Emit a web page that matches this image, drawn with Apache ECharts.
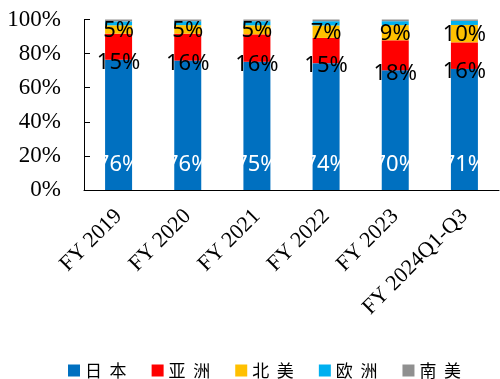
<!DOCTYPE html>
<html><head><meta charset="utf-8">
<script src="https://cdn.jsdelivr.net/npm/echarts@6/dist/echarts.min.js"></script>
<style>html,body{margin:0;padding:0;background:#fff}#c{width:500px;height:379px}</style>
</head><body><div id="c"></div>
<script>
var categories = ['FY 2019','FY 2020','FY 2021','FY 2022','FY 2023','FY 2024Q1-Q3'];
var japan   = [76.4, 75.9, 75.2, 74.4, 70.2, 71.0];
var asia    = [15.3, 15.8, 16.1, 14.8, 17.6, 15.6];
var nAmerica= [4.9, 5.0, 5.3, 7.3, 8.9, 10.2];
var europe  = [2.3, 2.3, 2.4, 2.5, 2.3, 2.4];
var sAmerica= [1.1, 1.0, 1.0, 1.0, 1.0, 0.8];
var seriesNames = ['日本','亚洲','北美','欧洲','南美'];
var yTicks = [0,20,40,60,80,100];

var colors = ['#0070C0','#FF0000','#FFC000','#00B0F0','#909090'];
var pct = function(p){ return Math.round(p.value) + '%'; };
var labelFont = 'Noto Sans';
var chart = echarts.init(document.getElementById('c'));
chart.setOption({
  animation:false,
  color: colors,
  grid:{left:84, right:1, top:19.5, bottom:189, containLabel:false},
  legend:{
    left:63, top:357, itemWidth:12, itemHeight:12, itemGap:25,
    icon:'rect',
    formatter:function(n){ return n.split('').join('  '); },
    textStyle:{fontFamily:'Noto Sans CJK SC', fontSize:17, color:'#000'},
    data: seriesNames
  },
  xAxis:{
    type:'category', data:categories,
    axisLine:{lineStyle:{color:'#000', width:1}},
    axisTick:{inside:true, length:6, lineStyle:{color:'#000'}},
    axisLabel:{rotate:45, margin:23, interval:0, fontFamily:'Liberation Serif', fontSize:22, color:'#000'}
  },
  yAxis:{
    type:'value', min:yTicks[0], max:yTicks[yTicks.length-1], interval:20,
    axisLine:{show:true, lineStyle:{color:'#000', width:1}},
    axisTick:{show:true, inside:true, length:6, lineStyle:{color:'#000'}},
    splitLine:{show:false},
    axisLabel:{formatter:'{value}%', margin:23, fontFamily:'Liberation Serif', fontSize:23, color:'#000'}
  },
  series:[
    {name:seriesNames[0], type:'bar', stack:'a', barWidth:27, data:japan,
     label:{show:true, position:['50%','100%'], align:'center', verticalAlign:'middle', offset:[0,-25],
            formatter:pct, color:'#fff', fontFamily:labelFont, fontSize:22}},
    {name:seriesNames[1], type:'bar', stack:'a', data:asia,
     label:{show:true, position:['50%','100%'], align:'center', verticalAlign:'middle', offset:[0,3],
            formatter:pct, color:'#000', fontFamily:labelFont, fontSize:22}},
    {name:seriesNames[2], type:'bar', stack:'a', data:nAmerica,
     label:{show:true, position:['50%','50%'], align:'center', verticalAlign:'middle', offset:[0,1],
            formatter:pct, color:'#000', fontFamily:labelFont, fontSize:22}},
    {name:seriesNames[3], type:'bar', stack:'a', data:europe},
    {name:seriesNames[4], type:'bar', stack:'a', data:sAmerica}
  ]
});
</script></body></html>
